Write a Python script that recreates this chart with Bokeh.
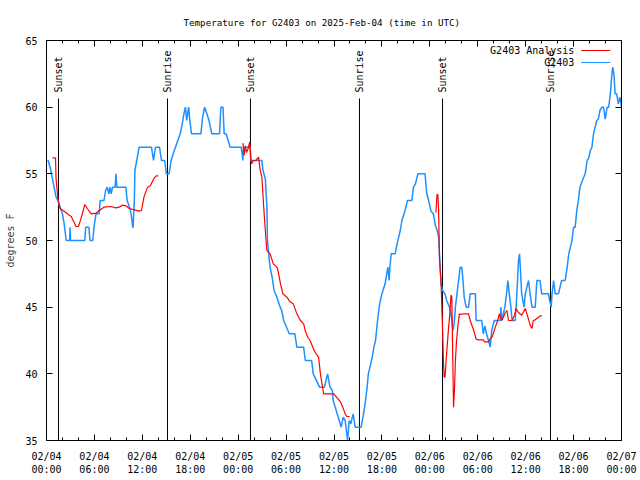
import math
from bokeh.plotting import figure
from bokeh.models import Range1d, FixedTicker, LinearAxis
from bokeh.core.properties import value
from bokeh.embed import file_html
from bokeh.resources import INLINE

NaN = float("nan")

# ---- data (x = hours since 2025-02-04 00:00 UTC) ----
obs_hours = [0.1, 0.2, 0.45, 0.7, 0.95, 1.2, 1.45, 1.7, 2.0, 2.2, 2.47, 2.9, 2.95, 3.0, 4.8, 4.9, 5.3, 5.45, 5.8, 5.95,
             6.2, 6.6, 6.72, 7.2, 7.4, 7.6, 7.8, 7.95, 8.1, 8.27, 8.6, 8.7, 8.8, 9.94, 10.1, 10.4, 10.6, 10.8, 10.85, 11.0,
             11.07, 11.3, 11.6, 13.15, 13.4, 13.65, 14.15, 14.4, 14.8, 15.0, 15.35, 15.6, 16.0, 16.3, 16.74, 17.0, 17.2,
             17.4, 17.55, 17.8, 17.95, 18.16, 19.33, 19.55, 19.8, 20.08, 20.35, 20.7, 21.67, 21.83, 22.1, 22.25, 22.5,
             22.7, 23.0, 24.38, 24.6, 24.67, 25.5, 25.6, 26.97, 27.1, 27.4, 27.55, 27.6, 27.67, 27.9, 28.0, 28.25, 28.5,
             28.85, 29.2, 29.45, 29.7, 30.4, 31.1, 31.35, 32.2, 32.4, 33.2, 33.4, 34.2, 34.8, 35.0, 35.2, 35.5, 35.8,
             35.9, 36.4, 36.9, 37.15, 37.4, 37.7, 37.9, 38.1, 38.4, 38.65, 39.4, 39.7, 39.95, 40.15, 40.3, 40.6, 40.8,
             41.0, 41.2, 41.37, 41.6, 41.8, 42.0, 42.4, 42.6, 42.75, 42.9, 43.0, 43.16, 43.66, 43.9, 44.1, 44.3, 44.5,
             44.9, 45.2, 45.75, 45.95, 46.2, 46.4, 46.5, 47.4, 47.6, 47.84, 48.15, 48.45, 48.7, 48.9, 49.1, 49.25, 49.4,
             49.6, 49.9, 50.1, 50.47, 50.7, 50.9, 51.05, 51.2, 51.4, 51.6, 51.8, 52.0, 52.15, 52.3, 52.55, 52.85, 53.05,
             53.7, 53.8, 54.5, 54.7, 54.9, 55.1, 55.35, 55.56, 55.75, 56.06, 56.8, 56.9, 57.0, 57.4, 57.6, 57.77, 57.95,
             58.15, 58.3, 58.7, 58.9, 59.1, 59.23, 59.35, 59.5, 59.8, 59.95, 60.15, 60.36, 60.55, 60.8, 61.2, 61.4, 61.8,
             62.0, 62.86, 63.0, 63.2, 63.3, 63.5, 63.7, 64.1, 64.3, 64.5, 64.95, 65.2, 65.4, 65.8, 66.0, 66.2, 66.4, 66.6,
             66.8, 67.1, 67.45, 67.7, 67.9, 68.1, 68.3, 68.5, 68.7, 68.9, 69.1, 69.3, 69.55, 69.75, 69.96, 70.2, 70.4,
             70.6, 70.8, 70.9, 71.05, 71.2, 71.4, 71.6, 71.8, 72.0]
obs_temps = [56.0, 56.0, 55.5, 54.75, 54.0, 53.25, 53.0, 52.5, 52.0, 51.3, 50.0, 50.0, 51.0, 50.0, 50.0, 51.0, 51.0, 50.0, 50.0, 51.0,
             52.0, 52.0, 53.0, 53.0, 53.75, 54.0, 53.5, 54.0, 53.5, 54.0, 54.0, 55.0, 54.0, 54.0, 53.0, 52.5, 52.0, 51.0, 51.0, 53.0,
             55.25, 56.0, 57.0, 57.0, 56.0, 57.0, 57.0, 56.0, 56.0, 55.0, 55.0, 56.0, 56.75, 57.25, 58.0, 58.75, 59.5,
             60.0, 59.0, 60.0, 59.0, 58.0, 58.0, 59.25, 60.0, 59.5, 59.0, 58.0, 58.0, 60.0, 60.0, 58.0, 58.0,
             57.6, 57.0, 57.0, 56.0, 57.0, 57.0, 56.0, 56.0, 55.3, 54.6, 53.0, 52.5, 50.0, 48.5, 48.0, 47.25, 46.25,
             45.75, 45.1, 44.75, 44.0, 43.0, 43.0, 42.0, 42.0, 41.0, 41.0, 40.0, 39.0, 39.0, 39.5, 40.0, 39.0, 38.75,
             38.0, 37.0, 36.0, 36.75, 36.5, 35.0, 36.5, 36.25, 37.0, 36.0, 36.0, 37.0, 38.0, 39.0, 40.0, 40.75, 41.3,
             42.0, 42.5, 43.5, 44.75, 45.5, 46.0, 46.75, 47.5, 48.0, 47.0, 48.0, 49.0, 49.0, 49.75, 50.25, 50.75, 51.5,
             52.25, 53.0, 53.0, 54.0, 54.25, 54.75, 55.0, 55.0, 53.6, 53.0, 52.2, 52.0, 51.1, 50.8, 50.3, 48.5, 46.75,
             46.25, 46.0, 45.5, 45.0, 44.25, 43.25, 43.75, 45.0, 46.0, 47.0, 48.0, 48.0, 47.0, 45.75, 45.0, 45.0, 46.0,
             46.0, 44.0, 44.0, 43.0, 43.6, 43.0, 42.5, 42.0, 43.25, 44.0, 44.0, 45.0, 44.0, 45.0, 46.0, 47.0, 46.0,
             45.0, 44.0, 44.0, 46.0, 48.5, 49.0, 47.75, 46.0, 45.0, 46.0, 46.5, 47.0, 46.0, 45.0, 45.0, 47.0, 47.0,
             46.0, 46.0, 45.5, 45.0, 46.0, 47.0, 46.0, 46.0, 46.5, 47.0, 47.0, 48.0, 49.0, 50.0, 51.0, 51.0, 52.25, 53.0,
             54.0, 54.5, 55.0, 56.0, 56.2, 56.75, 57.0, 58.0, 58.5, 59.0, 59.1, 59.75, 60.0, 60.0, 59.1, 60.0, 60.0,
             61.0, 62.5, 63.0, 62.5, 61.0, 61.0, 60.25, 60.75, 60.0]

ana_hours = [0.75, 1.13, 1.2, 1.45, 1.7, 2.2, 2.85, 3.1, 3.7, 4.0, 4.3, 4.8, 5.1, 5.6, 6.2, 6.6, 7.2, 8.06, 8.7, 9.1,
             9.5, 9.94, 10.36, 11.0, 11.6, 11.9, 12.2, 12.65, 13.0, 13.5, 13.74, 14.0,
             19.0,
             24.6, 24.75, 24.9, 25.05, 25.25, 25.45, 25.6, 25.7, 25.9, 26.2, 26.55, 26.75, 26.97, 27.2, 27.4, 27.6,
             28.0, 28.4, 28.85, 29.0, 29.3, 29.6, 30.1, 30.5, 30.9, 31.35, 31.8, 32.2, 32.4, 32.7, 33.0, 33.35, 33.65,
             34.07, 34.3, 34.5, 34.7, 35.95, 36.1, 36.4, 36.8, 37.1, 37.4, 37.6, 37.95,
             43.0,
             48.75, 48.9, 49.0, 49.1, 49.2, 49.3, 49.4, 49.5, 49.6, 49.7, 49.8, 49.9, 50.1, 50.3, 50.5, 50.65, 50.75,
             50.85, 50.97, 51.1, 51.2, 51.35, 51.5, 51.7, 51.8, 52.2, 52.85, 53.05, 53.5, 53.8, 54.1, 54.7, 54.85,
             55.35, 55.55, 55.8, 56.2, 56.5, 56.7, 57.0, 57.2, 57.45, 57.65, 57.85, 58.3, 58.6, 58.8, 59.1, 59.5,
             59.95, 60.2, 60.6, 60.8, 60.95, 61.2, 61.6, 62.0]
ana_temps = [56.2, 56.2, 54.6, 53.0, 52.4, 52.2, 51.9, 51.8, 51.05, 51.05, 51.6, 52.7, 52.4, 52.0, 52.05, 52.25, 52.5, 52.55, 52.45, 52.5,
             52.65, 52.6, 52.4, 52.3, 52.2, 52.25, 53.25, 54.0, 54.1, 54.7, 54.85, 54.85,
             NaN,
             57.3, 56.4, 57.1, 56.6, 56.9, 57.4, 56.0, 55.75, 56.0, 56.0, 56.25, 55.3, 54.75, 52.5, 50.75, 49.25,
             49.0, 48.25, 48.0, 47.7, 46.75, 46.0, 45.75, 45.4, 45.25, 44.5, 44.0, 43.75, 43.25, 42.75, 42.5, 42.0, 41.6,
             41.25, 40.0, 39.25, 38.5, 38.5, 38.4, 38.2, 37.9, 37.5, 37.0, 36.8, 36.8,
             NaN,
             52.1, 53.45, 53.45, 52.25, 48.75, 47.75, 47.0, 45.0, 43.25, 41.0, 39.75, 39.75, 41.5, 43.1, 44.5, 45.9, 45.8,
             42.0, 37.5, 39.0, 41.0, 42.5, 43.5, 44.5, 44.45, 44.5, 44.5, 44.0, 43.25, 42.6, 42.55, 42.55, 42.4,
             42.4, 42.6, 42.75, 43.5, 44.0, 44.5, 44.0, 44.25, 44.6, 44.75, 44.0, 44.0, 44.4, 44.9, 44.6, 44.4,
             44.9, 44.4, 43.6, 43.4, 44.0, 44.05, 44.25, 44.4]

sun_hours = [1.5, 15.15, 25.54, 39.19, 49.59, 63.11]
sun_labels = ["Sunset", "Sunrise", "Sunset", "Sunrise", "Sunset", "Sunrise"]

x_ticks = [0, 6, 12, 18, 24, 30, 36, 42, 48, 54, 60, 66, 72]
x_tick_labels = ["02/04\n00:00", "02/04\n06:00", "02/04\n12:00", "02/04\n18:00",
                 "02/05\n00:00", "02/05\n06:00", "02/05\n12:00", "02/05\n18:00",
                 "02/06\n00:00", "02/06\n06:00", "02/06\n12:00", "02/06\n18:00",
                 "02/07\n00:00"]
y_ticks = [35, 40, 45, 50, 55, 60, 65]

series_names = ["G2403 Analysis", "G2403"]
series_colors = ["#ff0000", "#1e90ff"]

FONT = "DejaVu Sans Mono"
FS = "10px"

p = figure(width=640, height=480, x_range=Range1d(0, 72), y_range=Range1d(35, 65),
           output_backend="svg", toolbar_location=None,
           min_border_left=46, min_border_right=19, min_border_top=40, min_border_bottom=40,
           title="Temperature for G2403 on 2025-Feb-04 (time in UTC)")
p.title.align = "left"
p.title.offset = 137
p.title.text_font = FONT
p.title.text_font_size = "9.2px"
p.title.text_font_style = "normal"
p.title.text_color = "black"
p.title.standoff = 25

p.xgrid.visible = False
p.ygrid.visible = False
p.outline_line_color = "black"
p.outline_line_width = 1
p.background_fill_color = "white"
p.border_fill_color = "white"

def style_axis(ax, labels=True):
    ax.axis_line_color = "black"
    ax.major_tick_line_color = "black"
    ax.minor_tick_line_color = "black"
    ax.major_tick_in = 6
    ax.major_tick_out = 0
    ax.minor_tick_in = 3
    ax.minor_tick_out = 0
    ax.major_label_text_font = FONT
    ax.major_label_text_font_size = FS
    ax.major_label_text_color = "black" if labels else None
    ax.major_label_standoff = 5

xt = FixedTicker(ticks=x_ticks, minor_ticks=list(range(0, 73, 2)))
yt = FixedTicker(ticks=y_ticks, minor_ticks=[])

p.xaxis.ticker = xt
p.xaxis.major_label_overrides = {t: s for t, s in zip(x_ticks, x_tick_labels)}
style_axis(p.xaxis[0])
p.xaxis.major_label_standoff = 10
p.yaxis.ticker = yt
style_axis(p.yaxis[0])
p.yaxis.major_label_standoff = 9
p.yaxis.axis_label = "degrees F"
p.yaxis.axis_label_text_font = FONT
p.yaxis.axis_label_text_font_size = FS
p.yaxis.axis_label_text_font_style = "normal"
p.yaxis.axis_label_standoff = 6

top = LinearAxis(ticker=FixedTicker(ticks=x_ticks, minor_ticks=list(range(0, 73, 2))))
style_axis(top, labels=False)
top.major_label_text_font_size = "0px"
top.major_label_standoff = 0
p.add_layout(top, "above")
right = LinearAxis(ticker=FixedTicker(ticks=y_ticks, minor_ticks=[]))
style_axis(right, labels=False)
right.major_label_text_font_size = "0px"
right.major_label_standoff = 0
p.add_layout(right, "right")

# sunrise / sunset markers
line_top = 60.65
label_base = 61.1
p.segment(x0=sun_hours, y0=[35] * len(sun_hours), x1=sun_hours, y1=[line_top] * len(sun_hours),
          line_color="black", line_width=1)
p.text(x=sun_hours, y=[label_base] * len(sun_hours), text=sun_labels, angle=math.pi / 2,
       text_align="left", text_baseline="middle", text_font=value(FONT), text_font_size=FS,
       text_color="black")

# data
p.line(obs_hours, obs_temps, line_color=series_colors[1], line_width=1.5)
p.line(ana_hours, ana_temps, line_color=series_colors[0], line_width=1.2)

# key (text left of sample line, gnuplot style)
key_text_x = 66.1
key_line_x0 = 66.95
key_line_x1 = 70.6
key_y = [64.25, 63.35]
p.text(x=[key_text_x] * 2, y=key_y, text=series_names, text_align="right", text_baseline="middle",
       text_font=value(FONT), text_font_size=FS, text_color="black")
p.segment(x0=[key_line_x0] * 2, y0=key_y, x1=[key_line_x1] * 2, y1=key_y,
          line_color=series_colors, line_width=1.2)

open("out.html", "w").write(file_html(p, INLINE))
